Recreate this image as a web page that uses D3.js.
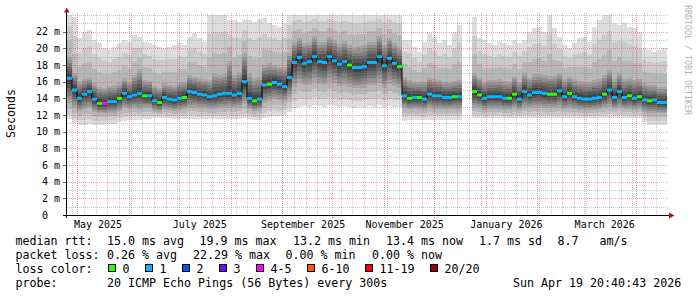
<!DOCTYPE html>
<html>
<head>
<meta charset="utf-8">
<script src="https://cdn.jsdelivr.net/npm/d3@7"></script>
<style>
  body { margin: 0; background: #fff; }
  svg text { font-family: "DejaVu Sans Mono", monospace; white-space: pre; fill: #000; }
</style>
</head>
<body>
<svg id="chart" width="697" height="297"></svg>
<script>
// ---- data (one value per 3-day step, 120 steps ending at endTime) ----
const endTime = Date.UTC(2026, 3, 19, 20, 40, 43);
const spanDays = 360;
const stepDays = 3;

const median = [
  16.4,15.0,14.0,14.5,14.8,13.9,13.4,13.4,13.6,13.6,
  14.0,14.6,14.2,14.4,14.6,14.3,14.3,13.7,13.5,14.1,
  13.9,13.8,14.0,14.1,14.8,14.7,14.5,14.4,14.2,14.3,
  14.5,14.6,14.6,14.4,14.6,16.0,14.0,13.7,13.9,15.6,
  15.7,15.9,15.7,15.4,16.5,18.3,18.9,18.2,18.4,19.0,
  18.4,18.3,19.0,18.5,18.1,18.4,18.0,17.7,17.7,17.8,
  18.3,18.3,19.0,17.9,18.8,18.2,17.8,14.3,14.0,14.1,
  14.1,13.9,14.5,14.3,14.3,14.1,14.1,14.2,14.2,null,
  null,14.8,14.4,14.0,14.2,14.2,14.2,14.0,14.0,14.5,
  13.9,14.8,14.4,14.7,14.7,14.6,14.5,14.5,14.9,14.2,
  14.6,14.2,14.0,13.9,13.9,14.0,14.1,14.5,15.0,14.1,
  14.8,14.1,14.3,14.0,14.2,13.8,13.7,13.8,13.5,13.5
];
const loss = [
  1,1,1,1,1,1,0,4,1,1,
  0,1,1,1,1,0,1,1,0,1,
  1,1,1,0,1,1,1,1,1,1,
  1,1,1,1,1,1,1,0,1,1,
  0,1,1,1,1,1,1,1,1,1,
  1,1,1,1,1,1,0,1,1,1,
  1,1,1,1,1,1,0,1,0,1,
  0,1,1,1,1,1,1,0,1,null,
  null,0,0,1,1,1,1,1,0,0,
  1,1,1,1,1,1,0,0,1,1,
  0,1,1,1,1,1,1,0,1,1,
  1,1,0,1,0,1,0,1,1,1
];
const pingMin = [
  11.5,11.0,10.8,10.8,10.9,10.8,10.8,10.8,10.9,10.9,
  11.2,11.3,11.4,11.4,11.4,11.5,11.5,11.6,11.6,11.6,
  11.6,11.5,11.5,11.5,11.5,11.5,11.5,11.5,11.5,11.5,
  11.5,11.5,11.5,11.5,11.5,11.6,11.5,11.4,11.4,11.6,
  11.8,11.9,11.9,12.0,12.4,12.9,13.0,13.1,13.0,13.2,
  13.1,13.0,13.2,13.1,13.0,13.1,13.0,12.9,13.0,13.0,
  13.1,13.0,13.2,13.0,13.1,13.0,13.0,11.3,11.4,11.4,
  11.4,11.4,11.4,11.4,11.4,11.4,11.4,11.4,11.4,null,
  null,11.6,11.6,11.6,11.6,11.6,11.6,11.6,11.6,11.6,
  11.6,11.6,11.6,11.6,11.6,11.6,11.6,11.6,11.6,11.6,
  11.6,11.6,11.6,11.6,11.6,11.6,11.6,11.6,11.6,11.6,
  11.6,11.6,11.6,11.6,11.6,11.2,10.8,10.8,10.8,10.8
];
const pingLo = [
  13.4,12.9,12.5,12.7,12.8,12.4,12.2,12.2,12.3,12.3,
  12.5,12.8,12.7,12.8,12.7,12.8,12.8,12.5,12.4,12.7,
  12.6,12.5,12.6,12.7,12.9,12.9,12.8,12.8,12.7,12.7,
  12.8,12.8,12.9,12.8,12.9,13.3,12.7,12.5,12.6,13.5,
  13.7,13.9,13.8,13.7,14.2,15.4,15.8,15.6,15.6,16.0,
  15.7,15.6,16.0,15.8,15.5,15.6,15.4,15.2,15.2,15.3,
  15.6,15.6,15.9,15.3,15.7,15.5,15.3,12.8,12.7,12.7,
  12.7,12.6,12.8,12.7,12.7,12.7,12.7,12.7,12.7,null,
  null,12.9,12.8,12.6,12.7,12.7,12.7,12.6,12.6,12.8,
  12.6,12.9,12.8,12.9,12.9,12.8,12.8,12.8,12.9,12.7,
  12.8,12.7,12.6,12.6,12.6,12.6,12.7,12.8,13.0,12.7,
  12.9,12.7,12.7,12.6,12.7,12.4,12.3,12.3,12.2,12.2
];
const pingHi = [
  19.0,17.0,16.0,16.3,16.5,15.8,15.4,15.3,15.5,15.6,
  15.8,16.4,16.0,16.8,17.5,16.2,16.1,15.5,15.3,15.8,
  15.6,15.5,15.9,16.0,16.8,16.6,16.4,16.3,16.2,17.0,
  16.8,16.9,18.5,16.8,17.2,19.5,17.0,16.5,16.6,18.0,
  18.2,18.0,17.8,17.8,19.5,20.8,21.2,20.6,20.8,21.5,
  20.8,20.8,21.4,21.0,20.5,20.9,20.4,20.2,20.3,20.4,
  20.8,20.8,21.5,20.4,21.2,20.6,20.2,16.6,16.2,16.0,
  16.0,16.0,16.5,16.3,16.2,16.0,16.0,16.1,16.2,null,
  null,17.0,16.5,16.0,16.2,16.2,16.3,16.1,16.0,16.6,
  16.0,17.0,16.5,16.9,16.9,16.8,16.7,16.7,17.0,16.3,
  16.6,16.3,16.1,16.0,16.0,16.2,16.3,16.8,17.4,16.3,
  17.0,16.3,16.4,16.2,16.3,15.8,15.6,15.6,15.4,15.4
];
const pingMax = [
  24.5,23.8,21.2,22.0,22.2,21.0,20.6,20.0,19.8,20.2,
  20.6,21.0,20.8,21.6,21.4,20.8,20.6,20.4,20.2,20.0,
  20.2,20.4,20.6,20.4,21.4,21.8,21.2,20.8,24.5,24.5,
  24.5,24.5,23.4,23.4,23.2,23.5,23.4,23.2,23.5,23.6,
  23.0,22.8,22.6,23.0,24.5,24.5,24.5,24.5,24.5,24.5,
  24.5,24.5,24.5,24.5,24.5,24.5,24.5,24.5,24.5,24.5,
  24.5,24.5,24.5,24.5,24.5,24.5,24.5,21.0,21.0,20.2,
  19.6,20.8,21.8,21.4,20.6,21.0,20.4,22.0,22.8,null,
  null,23.8,21.2,21.0,20.6,20.4,20.8,20.6,20.4,21.0,
  20.6,21.0,22.0,22.4,22.6,22.0,24.5,22.5,21.4,20.4,
  20.0,20.6,21.2,21.4,20.8,22.6,23.4,24.0,24.5,23.0,
  22.8,23.0,22.6,22.4,22.0,20.0,19.8,19.6,19.8,20.0
];

const yTicks = [0, 2, 4, 6, 8, 10, 12, 14, 16, 18, 20, 22];
const yTickLabels = ["0  ", "2 m", "4 m", "6 m", "8 m", "10 m", "12 m", "14 m", "16 m", "18 m", "20 m", "22 m"];
const xTickLabels = ["May 2025", "July 2025", "September 2025", "November 2025", "January 2026", "March 2026"];

const lossClasses = ["0", "1", "2", "3", "4-5", "6-10", "11-19", "20/20"];
const lossColors = ["#26ff00", "#00b8ff", "#0059ff", "#7e00ff", "#ff00ff", "#ff5500", "#ff0000", "#a10000"];

const rowRtt = ["median rtt:", "15.0 ms avg", "19.9 ms max", "13.2 ms min", "13.4 ms now", "1.7 ms sd", "8.7", "am/s"];
const rowLoss = ["packet loss:", "0.26 % avg", "22.29 % max", "0.00 % min", "0.00 % now"];
const rowProbe = ["probe:", "20 ICMP Echo Pings (56 Bytes) every 300s", "Sun Apr 19 20:40:43 2026"];
const watermark = "RRDTOOL / TOBI OETIKER";

// ---- layout ----
const X0 = 67, X1 = 667, Y0 = 215, Y1 = 15;
const DAY = 864e5;
const startTime = endTime - spanDays * DAY;

const svg = d3.select("#chart");
svg.append("rect").attr("width", 697).attr("height", 297).attr("fill", "#fff");

const x = d3.scaleUtc().domain([startTime, endTime]).range([X0, X1]);
const y = d3.scaleLinear().domain([0, 24]).range([Y0, Y1]);

svg.append("defs").append("clipPath").attr("id", "plot")
  .append("rect").attr("x", X0).attr("y", Y1).attr("width", X1 - X0).attr("height", Y0 - Y1);

const points = median.map((m, i) => ({
  t0: startTime + i * stepDays * DAY,
  t1: startTime + (i + 1) * stepDays * DAY,
  med: m, loss: loss[i],
  min: pingMin[i], lo: pingLo[i], hi: pingHi[i], max: pingMax[i]
}));

function lossIndex(n) {
  if (n <= 3) return n;
  if (n <= 5) return 4;
  if (n <= 10) return 5;
  if (n <= 19) return 6;
  return 7;
}

// smoke: 10 bands, ping b .. ping 21-b, darker toward the middle
const smoke = svg.append("g").attr("clip-path", "url(#plot)").attr("shape-rendering", "crispEdges");
points.filter(d => d.med != null).forEach(d => {
  const q = d3.scaleLinear().domain([1, 4, 10.5, 17, 20]).range([d.min, d.lo, d.med, d.hi, d.max]);
  for (let b = 1; b <= 10; b++) {
    const g = Math.round(190 / 10 * (10 - b) + 50);
    smoke.append("rect")
      .attr("x", x(d.t0))
      .attr("width", x(d.t1) - x(d.t0))
      .attr("y", y(q(21 - b)))
      .attr("height", y(q(b)) - y(q(21 - b)))
      .attr("fill", d3.rgb(g, g, g));
  }
});

// grid
const grid = svg.append("g").attr("shape-rendering", "crispEdges");
const px = v => Math.round(v) + 0.5;
d3.range(1, 25).filter(v => v % 2).concat([24]).forEach(v => {
  grid.append("line").attr("x1", X0).attr("x2", X1 + 2).attr("y1", px(y(v))).attr("y2", px(y(v)))
    .attr("stroke", "rgba(140,140,140,0.45)").attr("stroke-dasharray", "1,1");
});
d3.utcMonday.range(startTime, endTime).forEach(t => {
  grid.append("line").attr("x1", px(x(t))).attr("x2", px(x(t))).attr("y1", Y1 - 2).attr("y2", Y0 + 2)
    .attr("stroke", "rgba(140,140,140,0.45)").attr("stroke-dasharray", "1,1");
});
yTicks.slice(1).forEach(v => {
  grid.append("line").attr("x1", X0).attr("x2", X1 + 2).attr("y1", px(y(v))).attr("y2", px(y(v)))
    .attr("stroke", "rgba(210,60,60,0.45)").attr("stroke-dasharray", "1,1");
});
d3.utcMonth.range(startTime, endTime).forEach(t => {
  grid.append("line").attr("x1", px(x(t))).attr("x2", px(x(t))).attr("y1", Y1 - 2).attr("y2", Y0 + 4)
    .attr("stroke", "rgba(210,60,60,0.45)").attr("stroke-dasharray", "1,1");
});

// median line
const steps = [];
points.forEach(d => {
  if (d.med == null) { steps.push(null); return; }
  steps.push([d.t0, d.med], [d.t1, d.med]);
});
const plot = svg.append("g").attr("clip-path", "url(#plot)");
plot.append("path")
  .attr("d", d3.line().defined(d => d != null).x(d => x(d[0])).y(d => y(d[1]))(steps))
  .attr("fill", "none").attr("stroke", "#000").attr("stroke-width", 1);
points.filter(d => d.med != null).forEach(d => {
  plot.append("line")
    .attr("x1", x(d.t0)).attr("x2", x(d.t1))
    .attr("y1", y(d.med)).attr("y2", y(d.med))
    .attr("stroke", lossColors[lossIndex(d.loss)]).attr("stroke-width", 3);
});

// axes
const axis = svg.append("g").attr("shape-rendering", "crispEdges");
yTicks.forEach((v, i) => {
  axis.append("line").attr("x1", X0 - 4).attr("x2", X0 - 1).attr("y1", px(y(v))).attr("y2", px(y(v)))
    .attr("stroke", "#666");
  axis.append("text").attr("x", X0 - 7).attr("y", y(v)).attr("dy", "0.36em")
    .attr("text-anchor", "end").attr("font-size", "10px").text(yTickLabels[i]);
});
axis.append("line").attr("x1", X0 - 4).attr("x2", X1 + 2).attr("y1", Y0 + 0.5).attr("y2", Y0 + 0.5).attr("stroke", "#000");
axis.append("line").attr("x1", X0 - 0.5).attr("x2", X0 - 0.5).attr("y1", Y1 - 3).attr("y2", Y0 + 3).attr("stroke", "#000");
svg.append("path").attr("fill", "#9c1c1c")
  .attr("d", `M${X0 - 3},${Y1 - 2.5}L${X0 + 2.5},${Y1 - 2.5}L${X0 - 0.25},${Y1 - 7.5}Z`);
svg.append("path").attr("fill", "#9c1c1c")
  .attr("d", `M${X1 + 2},${Y0 - 2.5}L${X1 + 2},${Y0 + 3.5}L${X1 + 7.5},${Y0 + 0.5}Z`);

const parseMonth = d3.utcParse("%B %Y");
xTickLabels.forEach(lbl => {
  const t = +parseMonth(lbl) + 12.5 * DAY;
  svg.append("text").attr("x", x(t)).attr("y", 228).attr("text-anchor", "middle")
    .attr("font-size", "10px").text(lbl);
});

svg.append("text").attr("transform", "translate(10.5,113.5) rotate(-90)")
  .attr("text-anchor", "middle").attr("dy", "0.35em").attr("font-size", "11.6px").text("Seconds");
svg.append("text").attr("transform", "translate(688,5) rotate(90)")
  .attr("dy", "0.35em").attr("font-size", "8.3px").style("fill", "#b4b4b4").text(watermark);

// legend
const FS = "11.65px";
const rttX = [15.5, 107, 199.5, 293, 386, 479, 557.5, 599.5];
const lossX = [15.5, 107, 193, 285.5, 372];
const probeX = [15.5, 107, 513];
rowRtt.forEach((s, i) => svg.append("text").attr("x", rttX[i]).attr("y", 245).attr("font-size", FS).text(s));
rowLoss.forEach((s, i) => svg.append("text").attr("x", lossX[i]).attr("y", 259).attr("font-size", FS).text(s));
rowProbe.forEach((s, i) => svg.append("text").attr("x", probeX[i]).attr("y", 287).attr("font-size", FS).text(s));
svg.append("text").attr("x", 15.5).attr("y", 273).attr("font-size", FS).text("loss color:");
let bx = 108;
lossClasses.forEach((c, i) => {
  svg.append("rect").attr("x", bx + 0.5).attr("y", 264.5).attr("width", 7).attr("height", 7)
    .attr("fill", lossColors[i]).attr("stroke", "#000").attr("shape-rendering", "crispEdges");
  svg.append("text").attr("x", bx + 14.5).attr("y", 273).attr("font-size", FS).text(c);
  bx += 15 + c.length * 7 + 15;
});
</script>
</body>
</html>
